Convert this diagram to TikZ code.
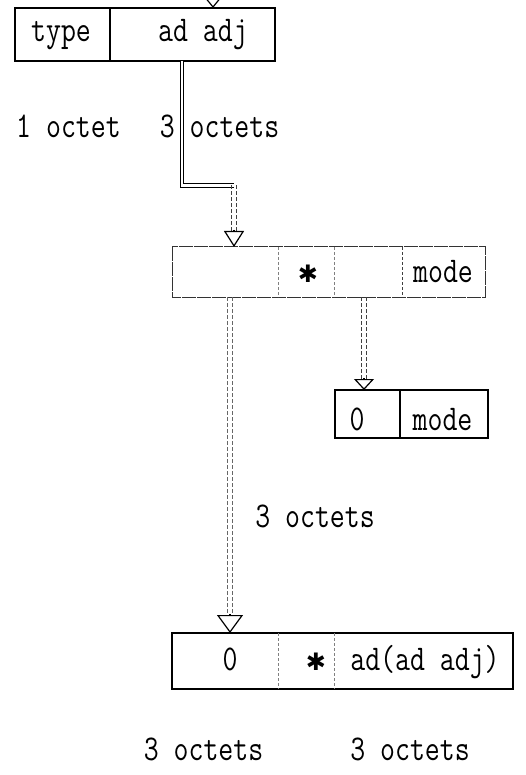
\documentclass[tikz,border=0pt]{standalone}
\usepackage{fontspec}
\newfontfamily\dejavu{DejaVu Sans}
\usetikzlibrary{arrows.meta,calc}
\newcommand\tw[1]{\scalebox{1}[1.25]{#1}}
\newcommand\myast{{\dejavu\fontsize{24}{24}\selectfont ✱}}
\begin{document}
\begin{tikzpicture}[x=1pt,y=-1pt,
  cell/.style={rectangle, inner sep=0pt, outer sep=0pt, anchor=north west},
  solidbox/.style={draw=black, line width=1.3pt},
  frame/.style={draw=black!80, line width=1pt, dash pattern=on 14pt off 1pt},
  divider/.style={draw=black!50, line width=0.8pt, dash pattern=on 3pt off 2pt},
  txt/.style={font=\fontsize{29}{30}\selectfont\ttfamily, inner sep=0pt, anchor=base},
  dline/.style={draw=black, double=white, double distance=2.8pt, line width=0.9pt},
  dotline/.style={draw=black!60, line width=1pt, dash pattern=on 4pt off 2pt},
  tipA/.style={draw=black, line width=1.2pt}
]
\useasboundingbox (0,0) rectangle (526,775);
\clip (0,0) rectangle (526,775);

% box 1
\node[cell, solidbox, minimum width=95pt, minimum height=53pt] (b1a) at (15,8) {};
\node[cell, solidbox, minimum width=165pt, minimum height=53pt] (b1b) at (110,8) {};
\node[txt] (l1a) at (61,42) {\tw{type}};
\node[txt] (l1b) at (203,42) {\tw{ad adj}};

% box 2
\node[cell, minimum width=106pt, minimum height=50pt] (b2a) at (172,247) {};
\node[cell, minimum width=56pt, minimum height=50pt] (b2b) at (278,247) {};
\node[cell, minimum width=68pt, minimum height=50pt] (b2c) at (334,247) {};
\node[cell, minimum width=83pt, minimum height=50pt] (b2d) at (402,247) {};
\draw[frame] (b2a.north west) rectangle (b2d.south east);
\draw[divider] (b2a.north east) -- (b2a.south east);
\draw[divider] (b2b.north east) -- (b2b.south east);
\draw[divider, draw=black!75] (b2c.north east) -- (b2c.south east);
\node[txt] (l2b) at (308,283) {\myast};
\node[txt] (l2d) at (443,283) {\tw{mode}};

% box 4
\node[cell, solidbox, minimum width=65pt, minimum height=48pt] (b4a) at (335,390) {};
\node[cell, solidbox, minimum width=88pt, minimum height=48pt] (b4b) at (400,390) {};
\node[txt] (l4a) at (357,430) {\tw{0}};
\node[txt] (l4b) at (442.5,430) {\tw{mode}};

% box 3
\node[cell, minimum width=106pt, minimum height=56pt] (b3a) at (172,633) {};
\node[cell, minimum width=56pt, minimum height=56pt] (b3b) at (278,633) {};
\node[cell, minimum width=179pt, minimum height=56pt] (b3c) at (334,633) {};
\draw[draw=black, line width=1.1pt] (b3a.north west) rectangle (b3c.south east);
\draw[divider] (b3a.north east) -- (b3a.south east);
\draw[divider] (b3b.north east) -- (b3b.south east);
\node[txt] (l3a) at (230,670) {\tw{0}};
\node[txt] (l3b) at (316,670) {\myast};
\node[txt] (l3c) at (425,670) {\tw{ad(ad adj)}};

% size labels
\node[txt] (s1) at (68.5,138) {\tw{1 octet}};
\node[txt] (s2) at (219.5,138) {\tw{3 octets}};
\node[txt] (s3) at (315,527) {\tw{3 octets}};
\node[txt] (s4) at (203.5,760) {\tw{3 octets}};
\node[txt] (s5) at (410,760) {\tw{3 octets}};

% incoming arrow at top
\coordinate (topsrc) at (213,-20);
\coordinate (t1) at (topsrc |- b1b.north);
\draw[tipA, -{Triangle[open, width=20pt, length=12.5pt]}] (topsrc) -- (t1);

% connector box1 -> box2
\coordinate (bend1) at (182,185.5);
\coordinate (bend2) at (234,185.5);
\coordinate (t2) at (bend2 |- b2a.north);
\draw[dline] (bend1 |- b1b.south) -- (bend1) -- (bend2);
\draw[dotline, draw=black!75, transform canvas={xshift=-2.2pt}] (bend2) -- ($(t2)+(0,-15)$);
\draw[dotline, draw=black!75, transform canvas={xshift=2.2pt}] (bend2) -- ($(t2)+(0,-15)$);
\draw[tipA, -{Triangle[open, width=20pt, length=16pt]}] ($(t2)+(0,-17)$) -- (t2);

% connector box2 -> box3
\coordinate (x3) at (230,0);
\coordinate (t3) at (x3 |- b3a.north);
\draw[dotline, transform canvas={xshift=-2.2pt}] (x3 |- b2a.south) -- ($(t3)+(0,-17)$);
\draw[dotline, transform canvas={xshift=2.2pt}] (x3 |- b2a.south) -- ($(t3)+(0,-17)$);
\draw[tipA, -{Triangle[open, width=26pt, length=18pt]}] ($(t3)+(0,-19)$) -- (t3);

% connector box2 -> box4
\coordinate (x4) at (364,0);
\coordinate (t4) at (x4 |- b4a.north);
\draw[dotline, draw=black!75, transform canvas={xshift=-2.2pt}] (x4 |- b2c.south) -- ($(t4)+(0,-10)$);
\draw[dotline, draw=black!75, transform canvas={xshift=2.2pt}] (x4 |- b2c.south) -- ($(t4)+(0,-10)$);
\draw[tipA, -{Triangle[open, width=20pt, length=11pt]}] ($(t4)+(0,-12)$) -- (t4);
\end{tikzpicture}
\end{document}
